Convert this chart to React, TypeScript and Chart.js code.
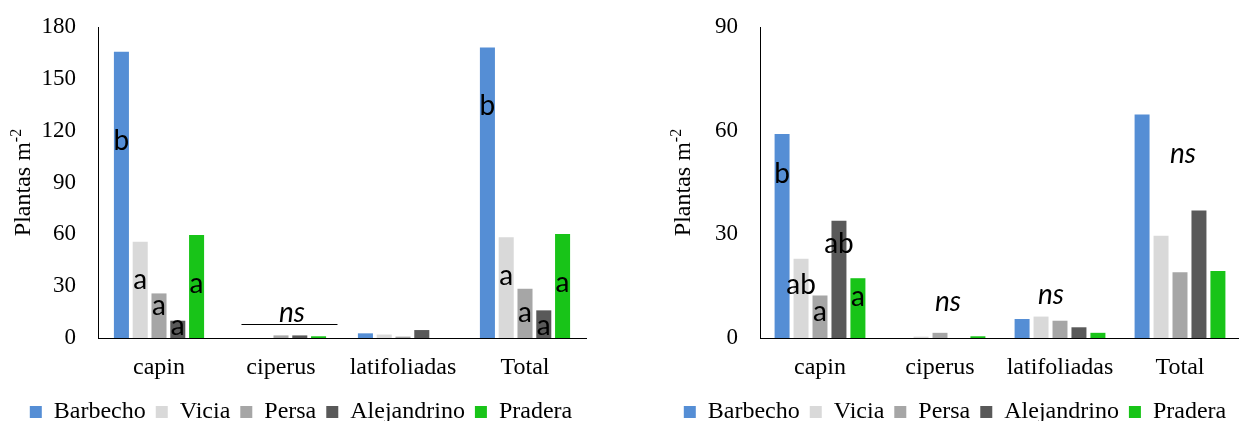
import React, { useEffect, useRef } from 'react';
import { Chart, registerables } from 'chart.js';

Chart.register(...registerables);

// ---------- data ----------
const categories = ['capin', 'ciperus', 'latifoliadas', 'Total'];
const seriesNames = ['Barbecho', 'Vicia', 'Persa', 'Alejandrino', 'Pradera'];
const seriesColors = ['#558ED5', '#D9D9D9', '#A6A6A6', '#595959', '#18C418'];

// left panel
const leftBarbecho = [165.7, 0, 2.7, 168.2];
const leftVicia = [55.7, 0, 2.0, 58.3];
const leftPersa = [25.8, 1.5, 0.8, 28.5];
const leftAlejandrino = [10.0, 1.5, 4.6, 16.0];
const leftPradera = [59.6, 1.0, 0, 60.2];
const leftMax = 180;
const leftStep = 30;

// right panel
const rightBarbecho = [59.0, 0, 5.5, 64.7];
const rightVicia = [22.9, 0.4, 6.2, 29.6];
const rightPersa = [12.3, 1.5, 5.0, 19.0];
const rightAlejandrino = [33.9, 0, 3.1, 36.9];
const rightPradera = [17.3, 0.5, 1.5, 19.4];
const rightMax = 90;
const rightStep = 30;

// significance letters: [series index, category index, text, baseline value]
type Letter = [number, number, string, number];
const leftLetters: Letter[] = [
  [0, 0, 'b', 108.8], [1, 0, 'a', 28.2], [2, 0, 'a', 13.3], [3, 0, 'a', 1.7], [4, 0, 'a', 25.9],
  [0, 3, 'b', 129], [1, 3, 'a', 30.7], [2, 3, 'a', 9.4], [3, 3, 'a', 1.7], [4, 3, 'a', 26.8],
];
const rightLetters: Letter[] = [
  [0, 0, 'b', 44.9], [1, 0, 'ab', 12.8], [2, 0, 'a', 4.8], [3, 0, 'ab', 24.7], [4, 0, 'a', 9.4],
];
// "ns" marks: [category position, baseline value]
const leftNs: [number, number][] = [[1.09, 9.4]];
const rightNs: [number, number][] = [[1.067, 7.7], [1.925, 9.9], [3.025, 50.7]];
// underline: [from category pos, to category pos, value]
const leftNsLines: [number, number, number][] = [[0.676, 1.463, 7.9]];
const rightNsLines: [number, number, number][] = [];

const SERIF = "'Liberation Serif', 'Times New Roman', serif";
const SANS = "Lato, 'Open Sans', sans-serif";

type PanelCfg = {
  values: number[][];
  max: number;
  step: number;
  letters: Letter[];
  ns: [number, number][];
  nsLines: [number, number, number][];
  width: number;
  padLeft: number;
  padRight: number;
  yWidth: number;
  titleX: number;
  catPct: number;
  barPct: number;
};

function makeChart(canvas: HTMLCanvasElement, cfg: PanelCfg) {
  const annot = {
    id: 'annot',
    afterDatasetsDraw(chart: any) {
      const ctx = chart.ctx;
      const xs = chart.scales.x;
      const ys = chart.scales.y;
      ctx.save();
      ctx.fillStyle = '#000';
      ctx.textAlign = 'center';
      ctx.textBaseline = 'alphabetic';
      ctx.font = `28px ${SANS}`;
      cfg.letters.forEach(([si, ci, t, v]) => {
        const el = chart.getDatasetMeta(si).data[ci];
        ctx.fillText(t, el.x, ys.getPixelForValue(v));
      });
      ctx.font = `italic 28px ${SANS}`;
      cfg.ns.forEach(([c, v]) => {
        ctx.fillText('ns', xs.getPixelForValue(c), ys.getPixelForValue(v));
      });
      ctx.strokeStyle = '#000';
      ctx.lineWidth = 1;
      cfg.nsLines.forEach(([a, b, v]) => {
        const y = Math.round(ys.getPixelForValue(v)) + 0.5;
        ctx.beginPath();
        ctx.moveTo(xs.getPixelForValue(a), y);
        ctx.lineTo(xs.getPixelForValue(b), y);
        ctx.stroke();
      });
      // y-axis title with superscript
      const cy = (chart.chartArea.top + chart.chartArea.bottom) / 2;
      ctx.translate(cfg.titleX, cy);
      ctx.rotate(-Math.PI / 2);
      const base = 'Plantas m';
      const sup = '-2';
      ctx.font = `24px ${SERIF}`;
      const w1 = ctx.measureText(base).width;
      ctx.font = `16px ${SERIF}`;
      const w2 = ctx.measureText(sup).width;
      const start = -(w1 + w2) / 2;
      ctx.textAlign = 'left';
      ctx.font = `24px ${SERIF}`;
      ctx.fillText(base, start, 0);
      ctx.font = `16px ${SERIF}`;
      ctx.fillText(sup, start + w1, -9);
      ctx.restore();
    },
  };

  return new Chart(canvas, {
    type: 'bar',
    data: {
      labels: categories,
      datasets: seriesNames.map((n, i) => ({
        label: n,
        data: cfg.values[i],
        backgroundColor: seriesColors[i],
        borderWidth: 0,
        categoryPercentage: cfg.catPct,
        barPercentage: cfg.barPct,
      })),
    },
    options: {
      responsive: false,
      animation: false,
      layout: { padding: { top: 27, left: cfg.padLeft, right: cfg.padRight, bottom: 0 } },
      plugins: {
        legend: {
          position: 'bottom',
          labels: {
            boxWidth: 12,
            boxHeight: 12,
            padding: 10,
            color: '#000',
            font: { family: SERIF, size: 24 },
          },
        },
        tooltip: { enabled: false },
      },
      scales: {
        x: {
          grid: { display: false, drawTicks: false },
          border: { display: true, color: '#000', width: 1 },
          ticks: { color: '#000', padding: 15, maxRotation: 0, autoSkip: false, font: { family: SERIF, size: 24 } },
          afterFit: (s: any) => { s.height = 52; },
        },
        y: {
          min: 0,
          max: cfg.max,
          grid: { display: false, drawTicks: false },
          border: { display: true, color: '#000', width: 1 },
          ticks: { stepSize: cfg.step, color: '#000', padding: 22, font: { family: SERIF, size: 23 } },
          afterFit: (s: any) => {
            s.width = cfg.yWidth;
            s.paddingTop = 0;
            s.paddingBottom = 0;
          },
        },
      },
    } as any,
    plugins: [annot],
  });
}

function Panel({ cfg, left }: { cfg: PanelCfg; left: number }) {
  const ref = useRef<HTMLCanvasElement | null>(null);
  useEffect(() => {
    if (!ref.current) return;
    const c = makeChart(ref.current, cfg);
    return () => c.destroy();
  }, []);
  return (
    <canvas
      ref={ref}
      width={cfg.width}
      height={434}
      style={{ position: 'absolute', left, top: 0, width: cfg.width, height: 434 }}
    />
  );
}

const leftCfg: PanelCfg = {
  values: [leftBarbecho, leftVicia, leftPersa, leftAlejandrino, leftPradera],
  max: leftMax,
  step: leftStep,
  letters: leftLetters,
  ns: leftNs,
  nsLines: leftNsLines,
  width: 620,
  padLeft: 16,
  padRight: 34,
  yWidth: 82,
  titleX: 30,
  catPct: 0.77,
  barPct: 0.8,
};

const rightCfg: PanelCfg = {
  values: [rightBarbecho, rightVicia, rightPersa, rightAlejandrino, rightPradera],
  max: rightMax,
  step: rightStep,
  letters: rightLetters,
  ns: rightNs,
  nsLines: rightNsLines,
  width: 686,
  padLeft: 50,
  padRight: 66,
  yWidth: 90,
  titleX: 70,
  catPct: 0.79,
  barPct: 0.79,
};

export default function App() {
  return (
    <div
      style={{
        position: 'absolute',
        left: 0,
        top: 0,
        width: 1239,
        height: 421,
        overflow: 'hidden',
        background: '#fff',
      }}
    >
      <Panel cfg={leftCfg} left={0} />
      <Panel cfg={rightCfg} left={620} />
    </div>
  );
}
